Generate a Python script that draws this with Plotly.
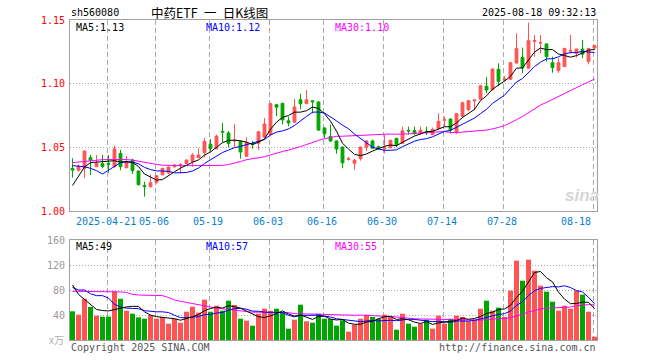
import numpy as np
import pandas as pd
import plotly.graph_objects as go

# ---------------- data ----------------
holidays = ["2025-05-01", "2025-05-02", "2025-05-05", "2025-06-02"]
dates = [d.strftime("%Y-%m-%d") for d in pd.bdate_range("2025-04-11", "2025-08-18")
         if d.strftime("%Y-%m-%d") not in holidays]

opens = [1.0335, 1.0320, 1.0336, 1.0419, 1.0348, 1.0372, 1.0375, 1.0348, 1.0453, 1.0340,
         1.0400, 1.0314, 1.0199, 1.0191, 1.0225, 1.0285, 1.0300, 1.0348, 1.0356, 1.0374,
         1.0388, 1.0419, 1.0458, 1.0524, 1.0488, 1.0625, 1.0613, 1.0550, 1.0545, 1.0430,
         1.0530, 1.0532, 1.0580, 1.0600, 1.0835, 1.0846, 1.0708, 1.0697, 1.0874, 1.0843,
         1.0866, 1.0857, 1.0652, 1.0585, 1.0550, 1.0502, 1.0405, 1.0375, 1.0412, 1.0501,
         1.0550, 1.0505, 1.0490, 1.0497, 1.0570, 1.0532, 1.0633, 1.0632, 1.0612, 1.0625,
         1.0600, 1.0648, 1.0712, 1.0722, 1.0618, 1.0743, 1.0795, 1.0866, 1.0878, 1.0980,
         1.0952, 1.1113, 1.1030, 1.1035, 1.1162, 1.1207, 1.1122, 1.1332, 1.1318, 1.1312,
         1.1165, 1.1103, 1.1135, 1.1255, 1.1238, 1.1272, 1.1175, 1.1280]
highs = [1.0414, 1.0366, 1.0475, 1.0440, 1.0440, 1.0440, 1.0440, 1.0513, 1.0480, 1.0432,
         1.0411, 1.0316, 1.0230, 1.0288, 1.0280, 1.0340, 1.0350, 1.0370, 1.0375, 1.0405,
         1.0453, 1.0492, 1.0574, 1.0565, 1.0600, 1.0692, 1.0628, 1.0683, 1.0555, 1.0579,
         1.0550, 1.0628, 1.0730, 1.0850, 1.0840, 1.0848, 1.0741, 1.0880, 1.0920, 1.0950,
         1.0868, 1.0860, 1.0655, 1.0680, 1.0553, 1.0505, 1.0425, 1.0410, 1.0505, 1.0555,
         1.0560, 1.0513, 1.0597, 1.0560, 1.0575, 1.0662, 1.0662, 1.0662, 1.0662, 1.0662,
         1.0655, 1.0767, 1.0741, 1.0728, 1.0767, 1.0858, 1.0872, 1.0876, 1.0990, 1.1053,
         1.1118, 1.1160, 1.1060, 1.1168, 1.1395, 1.1283, 1.1480, 1.1382, 1.1382, 1.1315,
         1.1212, 1.1200, 1.1280, 1.1382, 1.1275, 1.1343, 1.1280, 1.1304]
lows = [1.0262, 1.0309, 1.0257, 1.0283, 1.0345, 1.0335, 1.0300, 1.0340, 1.0320, 1.0335,
        1.0290, 1.0199, 1.0113, 1.0185, 1.0215, 1.0280, 1.0290, 1.0340, 1.0296, 1.0370,
        1.0348, 1.0415, 1.0420, 1.0466, 1.0485, 1.0540, 1.0500, 1.0500, 1.0410, 1.0425,
        1.0490, 1.0480, 1.0575, 1.0590, 1.0745, 1.0680, 1.0665, 1.0695, 1.0800, 1.0840,
        1.0767, 1.0628, 1.0571, 1.0545, 1.0450, 1.0336, 1.0395, 1.0325, 1.0395, 1.0470,
        1.0487, 1.0482, 1.0453, 1.0490, 1.0500, 1.0530, 1.0600, 1.0597, 1.0597, 1.0597,
        1.0597, 1.0645, 1.0662, 1.0610, 1.0605, 1.0740, 1.0785, 1.0790, 1.0876, 1.0923,
        1.0948, 1.0980, 1.1015, 1.1030, 1.1158, 1.1082, 1.1118, 1.1212, 1.1238, 1.1173,
        1.1086, 1.1085, 1.1132, 1.1238, 1.1207, 1.1199, 1.1152, 1.1265]
closes = [1.0322, 1.0351, 1.0471, 1.0398, 1.0375, 1.0350, 1.0365, 1.0487, 1.0348, 1.0388,
          1.0317, 1.0207, 1.0192, 1.0222, 1.0277, 1.0335, 1.0345, 1.0361, 1.0366, 1.0400,
          1.0440, 1.0440, 1.0546, 1.0490, 1.0588, 1.0620, 1.0530, 1.0555, 1.0463, 1.0537,
          1.0525, 1.0622, 1.0683, 1.0843, 1.0815, 1.0715, 1.0692, 1.0817, 1.0842, 1.0873,
          1.0858, 1.0636, 1.0607, 1.0550, 1.0487, 1.0378, 1.0410, 1.0399, 1.0502, 1.0550,
          1.0493, 1.0498, 1.0497, 1.0555, 1.0520, 1.0630, 1.0628, 1.0610, 1.0635, 1.0612,
          1.0641, 1.0704, 1.0716, 1.0637, 1.0765, 1.0850, 1.0866, 1.0872, 1.0983, 1.0950,
          1.1115, 1.1018, 1.1036, 1.1165, 1.1275, 1.1125, 1.1338, 1.1338, 1.1323, 1.1212,
          1.1127, 1.1165, 1.1277, 1.1260, 1.1272, 1.1232, 1.1277, 1.1300]
volumes = [45.9, 40.5, 66.0, 52.8, 38.9, 37.3, 37.3, 77.3, 66.0, 46.9,
           42.1, 36.3, 34.1, 40.0, 34.1, 36.8, 26.1, 33.6, 27.7, 45.3,
           53.3, 43.7, 64.5, 45.3, 54.9, 46.9, 62.9, 56.0, 34.1, 30.9,
           22.9, 42.1, 50.1, 46.9, 50.1, 43.2, 18.1, 32.5, 56.5, 29.9,
           27.7, 42.1, 34.1, 33.6, 22.9, 31.5, 13.3, 24.5, 34.1, 40.5,
           36.8, 34.1, 40.5, 36.8, 16.5, 42.1, 26.1, 21.3, 26.1, 32.5,
           18.1, 38.9, 26.1, 34.1, 38.9, 36.8, 29.9, 32.5, 50.1, 62.9,
           46.9, 51.7, 36.8, 78.9, 126.9, 94.9, 128.5, 110.9, 86.9, 77.3,
           61.3, 46.9, 54.9, 50.1, 78.9, 72.5, 45.3, 5.3]

# moving-average values for the days before each window fills
ma5_head = [1.0200, 1.0272, 1.0345, 1.0380]
ma10_head = [1.0356, 1.0352, 1.0348, 1.0335, 1.0317, 1.0291, 1.0322, 1.0356, 1.0380]
ma30_head = [1.0380, 1.0385, 1.0392, 1.0398, 1.0402, 1.0403, 1.0404, 1.0405, 1.0405, 1.0404,
             1.0400, 1.0390, 1.0380, 1.0372, 1.0366, 1.0360, 1.0357, 1.0356, 1.0356, 1.0356,
             1.0356, 1.0355, 1.0355, 1.0355, 1.0356, 1.0358, 1.0365, 1.0375, 1.0388]
vma5_head = [88, 73, 65, 57]
vma10_head = [84, 80, 80, 74, 71, 71, 67, 57, 53]
vma30_head = [78, 78, 78, 78, 77.5, 77.5, 77.5, 77.5, 77, 76,
              73, 72, 71.5, 71.5, 71.5, 71, 68, 64, 62, 60,
              58, 56, 54, 52.5, 51, 50, 49, 48, 46.5]

tick_dates = ["2025-04-21", "2025-05-06", "2025-05-19", "2025-06-03", "2025-06-16",
              "2025-06-30", "2025-07-14", "2025-07-28", "2025-08-18"]
tick_labels = ["2025-04-21", "05-06", "05-19", "06-03", "06-16", "06-30", "07-14", "07-28", "08-18"]
price_ticks = [1.00, 1.05, 1.10, 1.15]
vol_ticks = [40, 80, 120, 160]
ma_price_labels = ["MA5:1.13", "MA10:1.12", "MA30:1.10"]
ma_vol_labels = ["MA5:49", "MA10:57", "MA30:55"]


def moving(values, n, head):
    s = pd.Series(values, dtype=float).rolling(n).mean()
    s.iloc[:n - 1] = head
    return s.tolist()


ma5 = moving(closes, 5, ma5_head)
ma10 = moving(closes, 10, ma10_head)
ma30 = moving(closes, 30, ma30_head)
vma5 = moving(volumes, 5, vma5_head)
vma10 = moving(volumes, 10, vma10_head)
vma30 = moving(volumes, 30, vma30_head)

# ---------------- style ----------------
W, H = 660, 360
RED = "#ff5454"
GREEN = "#00a600"
MA_COLORS = ["#000000", "#0000ff", "#ff00ff"]
BORDER = "#a0a0a0"
GRID = "#aaaaaa"
MONO = "DejaVu Sans Mono"
CJK = "Noto Sans CJK SC"
DATE_BLUE = "#0a7fd2"


def px(x):
    return x / W


def py(y):
    return 1 - y / H


xs = list(range(len(dates)))
grid_x = [dates.index(d) - 0.25 for d in tick_dates]
x_range = [-0.4167, len(dates) - 1 + 0.4167]

fig = go.Figure()
fig.add_trace(go.Candlestick(
    x=xs, open=opens, high=highs, low=lows, close=closes,
    increasing=dict(line=dict(color=RED, width=1), fillcolor=RED),
    decreasing=dict(line=dict(color=GREEN, width=1), fillcolor=GREEN),
    whiskerwidth=0, hoverinfo="skip", xaxis="x", yaxis="y"))
for vals, col in zip([ma30, ma10, ma5], MA_COLORS[::-1]):
    fig.add_trace(go.Scatter(x=xs, y=vals, mode="lines", line=dict(color=col, width=1),
                             hoverinfo="skip", xaxis="x", yaxis="y"))

vol_colors = [RED if c >= o else GREEN for o, c in zip(opens, closes)]
fig.add_trace(go.Bar(x=xs, y=volumes, marker=dict(color=vol_colors, line=dict(width=0)),
                     hoverinfo="skip", xaxis="x2", yaxis="y2"))
for vals, col in zip([vma30, vma10, vma5], MA_COLORS[::-1]):
    fig.add_trace(go.Scatter(x=xs, y=vals, mode="lines", line=dict(color=col, width=1),
                             hoverinfo="skip", xaxis="x2", yaxis="y2"))

xaxis_common = dict(domain=[px(70), px(597)], range=x_range, tickvals=grid_x,
                    showticklabels=False, ticks="", showgrid=True, gridcolor=GRID,
                    griddash="5px,3px", gridwidth=1, showline=True, linecolor=BORDER,
                    linewidth=1, mirror=True, zeroline=False, fixedrange=True,
                    automargin=False)

annotations = []
# date labels
for i, (d, lab) in enumerate(zip(tick_dates, tick_labels)):
    last = i == len(tick_dates) - 1
    annotations.append(dict(x=dates.index(d) - 0.25, xref="x", y=py(221.5), yref="paper",
                            text=lab, showarrow=False, xanchor="right" if last else "center",
                            yanchor="middle", xshift=-1, borderpad=0,
                            font=dict(family=MONO, size=10, color=DATE_BLUE)))
# MA labels
for lab, col, x0 in zip(ma_price_labels, MA_COLORS, [75, 205, 334]):
    annotations.append(dict(x=px(x0), xref="paper", y=py(27.3), yref="paper", text=lab,
                            showarrow=False, xanchor="left", yanchor="middle", borderpad=0,
                            font=dict(family=MONO, size=10, color=col)))
for lab, col, x0 in zip(ma_vol_labels, MA_COLORS, [75, 205, 334]):
    annotations.append(dict(x=px(x0), xref="paper", y=py(246), yref="paper", text=lab,
                            showarrow=False, xanchor="left", yanchor="middle", borderpad=0,
                            font=dict(family=MONO, size=10, color=col)))
# header / footer
annotations += [
    dict(x=px(70), y=py(13), xref="paper", yref="paper", text="sh560080", showarrow=False,
         xanchor="left", yanchor="middle", borderpad=0,
         font=dict(family=MONO, size=10, color="#000")),
    dict(x=px(209), y=py(12.3), xref="paper", yref="paper", text="中药ETF\u2002一\u2002日K线图",
         showarrow=False, xanchor="center", yanchor="middle", borderpad=0,
         font=dict(family=CJK, size=12.5, color="#000")),
    dict(x=px(597), y=py(13), xref="paper", yref="paper", text="2025-08-18 09:32:13",
         showarrow=False, xanchor="right", yanchor="middle", borderpad=0,
         font=dict(family=MONO, size=10, color="#000")),
    dict(x=px(70), y=py(347), xref="paper", yref="paper", text="Copyright 2025 SINA.COM",
         showarrow=False, xanchor="left", yanchor="middle", borderpad=0,
         font=dict(family=MONO, size=10, color="#555")),
    dict(x=px(597), y=py(347), xref="paper", yref="paper", text="http://finance.sina.com.cn",
         showarrow=False, xanchor="right", yanchor="middle", borderpad=0,
         font=dict(family=MONO, size=10, color="#555")),
    dict(x=px(56), y=py(339), xref="paper", yref="paper", text="x万", showarrow=False,
         xanchor="center", yanchor="middle", borderpad=0,
         font=dict(family=CJK, size=10, color="#b0b0b0")),
    dict(x=px(582), y=py(196), xref="paper", yref="paper", text="<b><i>sina</i></b>",
         showarrow=False, xanchor="center", yanchor="middle", borderpad=0,
         font=dict(family="Liberation Sans", size=17, color="#d6d6d6")),
]

fig.update_layout(
    width=W, height=H, autosize=False, margin=dict(l=0, r=0, t=0, b=0, pad=0),
    paper_bgcolor="white", plot_bgcolor="white", showlegend=False,
    boxgap=0.33, bargap=0.17, hovermode=False,
    xaxis=dict(anchor="y", rangeslider=dict(visible=False), **xaxis_common),
    xaxis2=dict(anchor="y2", matches="x", **xaxis_common),
    yaxis=dict(domain=[py(211), py(20)], range=[1.00, 1.15], tickvals=price_ticks,
               ticktext=[f"{v:.2f}" for v in price_ticks], ticks="", ticklabelstandoff=2,
               tickfont=dict(family=MONO, size=10, color="#ff0000"), showgrid=True,
               gridcolor=GRID, griddash="1px,2px", showline=True, linecolor=BORDER,
               mirror=True, zeroline=False, fixedrange=True, anchor="x", automargin=False),
    yaxis2=dict(domain=[py(340), py(240)], range=[0, 160], tickvals=vol_ticks,
                ticks="", ticklabelstandoff=2,
                tickfont=dict(family=MONO, size=10, color="#999999"), showgrid=True,
                gridcolor=GRID, griddash="1px,2px", showline=True, linecolor=BORDER,
                mirror=True, zeroline=False, fixedrange=True, anchor="x2", automargin=False),
    annotations=annotations,
)

# the page's default 8px body margin would push the 660x360 figure out of the window
fig.write_html("out.html", config={"displayModeBar": False, "staticPlot": True},
               post_script="document.body.style.margin='0px';")
